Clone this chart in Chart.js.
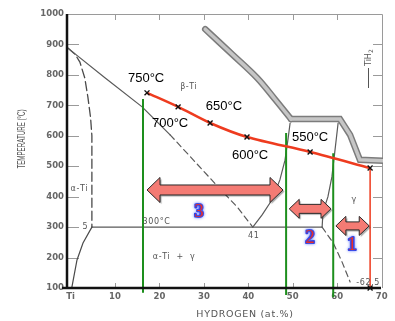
<!DOCTYPE html>
<html lang="en">
<head>
<meta charset="UTF-8">
<title>Ti-H phase diagram</title>
<script src="https://cdn.jsdelivr.net/npm/chart.js"></script>
<style>
  body { margin: 0; background: #fff; }
  #wrap { width: 395px; height: 321px; position: relative; }
</style>
</head>
<body>
<div id="wrap"><canvas id="phaseChart"></canvas></div>
<script>
// axis ticks
const tempTicks = [100, 200, 300, 400, 500, 600, 700, 800, 900, 1000];
const hydTicks = [0, 10, 20, 30, 40, 50, 60, 70];

// phase boundaries, pairs of [H at.%, temperature °C]
const betaTransus = [[-0.6, 888], [7.8, 790], [16.1, 695], [22.4, 603]];
const betaTransusLow = [[22.4, 603], [27.6, 521], [33.2, 432], [37.5, 366], [41, 300]];
const alphaBoundary = [[-0.6, 888], [1, 868], [2.1, 842], [3.2, 790], [3.9, 727], [4.5, 660], [4.8, 600], [4.8, 300]];
const alphaSolvus = [[4.8, 300], [2.8, 248], [1.45, 192], [0.3, 103]];
const eutectoid = [[4.8, 300], [56.6, 300]];
const betaGammaLeft = [[41, 300], [43.1, 340], [45.3, 389], [47.1, 455], [48.25, 520], [48.9, 586], [49.4, 642]];
const betaGammaRight = [[60.2, 642], [59.5, 553], [58.8, 465], [57.9, 399], [56.8, 350], [56.6, 300]];
const gammaSolvus = [[56.6, 300], [59.1, 248], [61.1, 185], [62.9, 120]];
const hydrideArc = [[30.3, 950], [36.5, 866], [42, 790], [46, 720], [49.6, 655]];
const hydrideStep = [[49.6, 655], [60.6, 655], [62.9, 603], [65.1, 521], [70.3, 518]];

// red measurement path
const redH = [17.2, 24.2, 31.4, 39.7, 53.9, 67.4];
const redT = [741, 695, 642, 596, 547, 494];
const redDropT = [494, 100];
const tempLabels = ['750°C', '700°C', '650°C', '600°C', '550°C'];

// green section lines
const greenH = [16.3, 48.5, 59.1];
const greenTop = [721, 609, 543];
const greenBottom = [84, 77, 70];

// zone arrows
const zoneFrom = [17.2, 49.2, 59.7];
const zoneTo = [47.8, 58.6, 67.2];
const zoneTemp = [422, 360, 304];
const zoneNames = ['3', '2', '1'];

const pts = arr => arr.map(([x, y]) => ({ x, y }));
function boundary(data, color, width, dash, order, tension) {
  return {
    data: pts(data), borderColor: color, borderWidth: width, borderDash: dash || [],
    pointRadius: 0, showLine: true, tension: tension || 0, fill: false, order: order,
    borderCapStyle: 'round'
  };
}

const datasets = [];
datasets.push({
  data: redH.map((h, i) => ({ x: h, y: redT[i] })),
  borderColor: '#ee3b1f', borderWidth: 2.5, showLine: true, tension: 0.3,
  pointStyle: 'crossRot', pointRadius: 3.5, pointBorderColor: '#111', pointBorderWidth: 1.4, order: 0
});
datasets.push({
  data: redDropT.map(t => ({ x: redH[redH.length - 1], y: t })),
  borderColor: '#ee3b1f', borderWidth: 1.5, showLine: true,
  pointStyle: 'crossRot', pointRadius: [0, 3.5], pointBorderColor: '#111', pointBorderWidth: 1.4,
  clip: false, order: 1
});
greenH.forEach((h, i) => {
  datasets.push({
    data: [{ x: h, y: greenTop[i] }, { x: h, y: greenBottom[i] }],
    borderColor: '#1d8f1d', borderWidth: 2, showLine: true, pointRadius: 0, clip: false, order: 2
  });
});
datasets.push(boundary(betaTransus, '#5a5a5a', 1.2, [], 5));
datasets.push(boundary(betaTransusLow, '#5a5a5a', 1.2, [6, 4], 5));
datasets.push(boundary(alphaBoundary, '#4a4a4a', 1.3, [9, 4], 5));
datasets.push(boundary(alphaSolvus, '#4a4a4a', 1.2, [], 5));
datasets.push(boundary(eutectoid, '#5a5a5a', 1.1, [], 5));
datasets.push(boundary(betaGammaLeft, '#5a5a5a', 1.2, [], 5));
datasets.push(boundary(betaGammaRight, '#5a5a5a', 1.2, [], 5));
datasets.push(boundary(gammaSolvus, '#5a5a5a', 1.2, [6, 4], 5));
datasets.push(boundary(hydrideArc, '#c6c6c6', 3.5, [], 6, 0.35));
datasets.push(boundary(hydrideStep, '#c6c6c6', 3.5, [], 6));
datasets.push(boundary(hydrideArc, '#7c7c7c', 6.5, [], 7, 0.35));
datasets.push(boundary(hydrideStep, '#7c7c7c', 6.5, [], 7));

function drawArrow(ctx, x1, x2, y, shaft, head, len) {
  ctx.beginPath();
  ctx.moveTo(x1, y);
  ctx.lineTo(x1 + len, y - head);
  ctx.lineTo(x1 + len, y - shaft);
  ctx.lineTo(x2 - len, y - shaft);
  ctx.lineTo(x2 - len, y - head);
  ctx.lineTo(x2, y);
  ctx.lineTo(x2 - len, y + head);
  ctx.lineTo(x2 - len, y + shaft);
  ctx.lineTo(x1 + len, y + shaft);
  ctx.lineTo(x1 + len, y + head);
  ctx.closePath();
  ctx.save();
  ctx.shadowColor = 'rgba(0,0,0,0.35)';
  ctx.shadowOffsetX = 1.5; ctx.shadowOffsetY = 1.5; ctx.shadowBlur = 1;
  ctx.fillStyle = '#f47b74';
  ctx.fill();
  ctx.restore();
  ctx.strokeStyle = '#2a2a2a';
  ctx.lineWidth = 1;
  ctx.stroke();
}

const decor = {
  id: 'decor',
  beforeDatasetsDraw(chart) {
    const { ctx, chartArea: a, scales: { x, y } } = chart;
    ctx.save();
    ctx.strokeStyle = '#9a9a9a';
    ctx.lineWidth = 1;
    ctx.beginPath();
    ctx.moveTo(a.left, a.top + 0.5);
    ctx.lineTo(a.right - 0.5, a.top + 0.5);
    ctx.lineTo(a.right - 0.5, a.bottom);
    ctx.stroke();
    ctx.beginPath();
    hydTicks.slice(1, -1).forEach(v => {
      const px = Math.round(x.getPixelForValue(v)) + 0.5;
      ctx.moveTo(px, a.top); ctx.lineTo(px, a.top + 6);
      ctx.moveTo(px, a.bottom); ctx.lineTo(px, a.bottom - 5);
    });
    tempTicks.slice(1, -1).forEach(v => {
      const py = Math.round(y.getPixelForValue(v)) + 0.5;
      ctx.moveTo(a.left, py); ctx.lineTo(a.left + 12, py);
      ctx.moveTo(a.right, py); ctx.lineTo(a.right - 10, py);
    });
    ctx.stroke();
    ctx.restore();
  },
  afterDatasetsDraw(chart) {
    const { ctx, chartArea: a, scales: { x, y } } = chart;
    const X = v => x.getPixelForValue(v);
    const Y = v => y.getPixelForValue(v);
    ctx.save();
    // black axes
    ctx.strokeStyle = '#111';
    ctx.lineWidth = 2.5;
    ctx.beginPath();
    ctx.moveTo(a.left, a.top);
    ctx.lineTo(a.left, a.bottom + 1);
    ctx.moveTo(a.left - 5, a.bottom);
    ctx.lineTo(a.right - 2, a.bottom);
    ctx.stroke();

    // gray diagram labels
    ctx.fillStyle = '#555';
    ctx.font = '8px "DejaVu Sans"';
    ctx.letterSpacing = '0.6px';
    ctx.textBaseline = 'middle';
    const gray = (s, h, t, align) => { ctx.textAlign = align || 'left'; ctx.fillText(s, X(h), Y(t)); };
    gray('β-Ti', 26.6, 760, 'center');
    gray('α-Ti', 0, 425);
    gray('300°C', 16.2, 317);
    gray('α-Ti  +  γ', 18.5, 202);
    gray('41', 41.2, 270, 'center');
    gray('5', 3.3, 301, 'center');
    gray('γ', 63.8, 389, 'center');
    gray('-62.5', 64.3, 117);

    // TiH2 mark
    ctx.save();
    ctx.translate(368.5, 68);
    ctx.rotate(-Math.PI / 2);
    ctx.strokeStyle = '#555';
    ctx.lineWidth = 1;
    ctx.beginPath(); ctx.moveTo(-20, 0); ctx.lineTo(0, 0); ctx.stroke();
    ctx.textAlign = 'left';
    ctx.letterSpacing = '0px';
    ctx.fillText('TiH', 2, 0);
    const w = ctx.measureText('TiH').width;
    ctx.font = '6px "DejaVu Sans"';
    ctx.fillText('2', 2 + w, 3);
    ctx.restore();

    // zone arrows
    const arrowShape = [[5, 12.5, 13], [4.5, 9.5, 10], [4, 9.5, 10]];
    zoneFrom.forEach((h, i) => {
      const [s, hd, ln] = arrowShape[i];
      drawArrow(ctx, X(h), X(zoneTo[i]), Y(zoneTemp[i]), s, hd, ln);
    });

    // zone numbers: blue outline with a thin red core
    const numPos = [[28.9, 350], [53.9, 264], [63.3, 241]];
    ctx.letterSpacing = '0px';
    ctx.textAlign = 'center';
    zoneNames.forEach((n, i) => {
      const px = X(numPos[i][0]), py = Y(numPos[i][1]);
      ctx.save();
      ctx.font = 'bold 19px "Liberation Serif"';
      ctx.shadowColor = 'rgba(120,140,255,0.9)';
      ctx.shadowBlur = 3;
      ctx.strokeStyle = '#2a3ae0';
      ctx.fillStyle = '#2a3ae0';
      ctx.lineWidth = 2;
      ctx.lineJoin = 'round';
      ctx.strokeText(n, px, py);
      ctx.fillText(n, px, py);
      ctx.restore();
      ctx.font = '19px "Liberation Serif"';
      ctx.fillStyle = '#e8302a';
      ctx.fillText(n, px, py);
    });

    // temperature labels along the red path
    const labPos = [[17.0, 787], [22.4, 639], [34.5, 698], [40.4, 537], [53.9, 596]];
    ctx.font = '13px "Liberation Sans"';
    ctx.fillStyle = '#000';
    tempLabels.forEach((s, i) => ctx.fillText(s, X(labPos[i][0]), Y(labPos[i][1])));
    ctx.restore();
  },
  afterDraw(chart) {
    const { ctx } = chart;
    ctx.save();
    ctx.fillStyle = '#555';
    ctx.textAlign = 'center';
    ctx.textBaseline = 'middle';
    ctx.font = '9.5px "DejaVu Sans"';
    ctx.letterSpacing = '0.7px';
    ctx.fillText('HYDROGEN (at.%)', 245, 315);
    ctx.letterSpacing = '0px';
    ctx.translate(22, 139);
    ctx.rotate(-Math.PI / 2);
    ctx.scale(0.62, 1);
    ctx.font = '10px "Liberation Sans"';
    ctx.fillText('TEMPERATURE (°C)', 0, 0);
    ctx.restore();
  }
};

new Chart(document.getElementById('phaseChart'), {
  type: 'scatter',
  data: { datasets: datasets },
  options: {
    responsive: true,
    maintainAspectRatio: false,
    animation: false,
    layout: { padding: { left: 0, right: 12, top: 14, bottom: 0 } },
    plugins: { legend: { display: false }, tooltip: { enabled: false } },
    scales: {
      x: {
        type: 'linear', min: -0.8, max: 70.3,
        grid: { display: false, drawTicks: false }, border: { display: false },
        afterBuildTicks: s => { s.ticks = hydTicks.map(v => ({ value: v })); },
        afterFit: s => { s.height = 33; },
        ticks: {
          padding: 4, color: '#666', font: { family: 'DejaVu Sans', size: 8.5, weight: 'bold' },
          callback: v => (v === 0 ? 'Ti' : String(v))
        }
      },
      y: {
        type: 'linear', min: 100, max: 1000,
        grid: { display: false, drawTicks: false }, border: { display: false },
        afterBuildTicks: s => { s.ticks = tempTicks.map(v => ({ value: v })); },
        afterFit: s => { s.width = 67; },
        ticks: {
          padding: 3, color: '#666', font: { family: 'DejaVu Sans', size: 8.5, weight: 'bold' },
          callback: v => String(v)
        }
      }
    }
  },
  plugins: [decor]
});
</script>
</body>
</html>
